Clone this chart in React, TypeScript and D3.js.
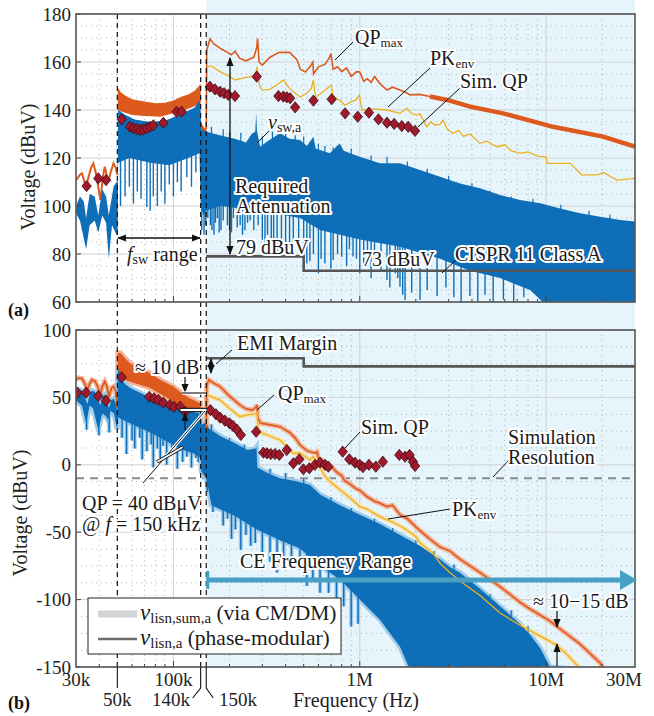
import React from 'react';
import * as d3 from 'd3';

type Pt = [number, number];

// ---------- DATA (frequency in kHz, level in dBuV) ----------
// Panel (a)
const qpA_low: Pt[] = [[30,110.8],[31.5,113],[32.3,113.6],[33.3,110],[34,108],[35,112],[36.2,116],[37.2,117.8],[38.5,113],[40.6,102.5],[41.8,112],[42.8,116.4],[43.8,113],[44.8,110],[46,114],[47.7,117.8],[49,116],[50,113]];
const qpA_bandTop: Pt[] = [[50,113],[50.3,149.4],[52,147.5],[55,146],[60,144.5],[70,143.5],[80,142.8],[90,143],[100,144],[110,145.5],[120,146.5],[130,148],[137,150],[140,151],[140.5,135],[145,133],[150,132]];
const qpA_bandBot: Pt[] = [[50.3,140],[52,139.5],[60,137.9],[70,137.5],[85,137.2],[100,138.6],[110,139.5],[125,141],[140,142.8],[140.5,132],[150,130]];
const qpA_high: Pt[] = [[150,132],[151,165],[157,169.6],[165,167.5],[180,165.5],[195,164],[205,163],[214,164.5],[227,161.5],[245,160.5],[270,162],[280,166],[283,169.8],[288,160],[300,158.7],[330,162],[370,164],[420,164],[460,161],[480,157],[510,155.8],[540,158],[560,160],[565,155],[600,158],[650,159],[690,162],[700,163.5],[720,157],[760,158],[800,156],[850,157.5],[900,154],[960,156],[1000,155.8],[1050,152],[1100,153],[1150,151.5],[1200,154],[1284,151],[1400,148.3],[1500,149.5],[1644,148.3],[1750,147.5],[1862,146.3],[2100,146.5],[2380,145.6],[2940,144.2],[3910,141.4],[5877,138.6],[10900,133],[20235,128.9],[30000,124.7]];
const pkA: Pt[] = [[151,158],[160,158.3],[178,156],[200,154],[214,152.5],[245,153.6],[267,153.9],[278,156],[281,158],[290,150],[299,148.3],[329,148.6],[360,150.5],[389,152.5],[420,149],[450,147],[478,145.4],[519,147],[550,149],[564,152.5],[575,147],[583,145.4],[654,148.3],[692,150],[705,150.4],[719,145.6],[780,144],[834,142],[900,143.5],[956,144.2],[995,146.3],[1028,140],[1200,140.5],[1400,140],[1644,138.6],[1791,140.7],[1900,138.5],[2029,137.9],[2106,138.5],[2289,133],[2400,135],[2535,133.75],[2700,134],[2800,135.8],[2950,132],[3168,130.3],[3400,131.5],[3600,129],[3900,130],[4422,126.1],[4800,127],[5459,124.7],[6000,125.5],[6500,123],[7252,122],[8000,122.5],[9000,120.8],[10000,120.5],[10125,117.8],[13500,117.8],[15500,113],[19000,113],[20300,114],[24000,110.8],[30000,111.5]];
const swA_upper: Pt[] = [[30,100],[31.5,104],[33,102],[34,95],[35.5,105],[37.8,104],[39.5,96],[41.5,107],[43.5,104],[45,96],[47.7,108],[49.5,110],[50.2,110],[50.5,140],[55,138],[62,136],[75,135],[90,135.5],[100,137],[115,139],[130,141],[138,144],[140,140],[141,132],[150,131],[167,130],[189,129],[214,128],[245,126.5],[263,130],[275,131],[278,138.6],[281,131],[292,124.7],[320,127],[373,130.3],[420,128],[478,127.5],[520,125],[564,128.9],[580,124],[690,122],[780,126],[820,123],[1000,120.5],[1284,117.8],[1644,117.8],[2106,115],[2697,112.2],[3454,109.4],[4422,107.4],[5663,104.6],[7252,102.5],[9300,101.1],[11890,99],[15225,97],[19495,95.5],[24955,94.2],[30000,93.5]];
const swA_lower: Pt[] = [[30,97],[31.5,94],[34,82],[35.5,92],[37.8,94],[39.5,89],[41.5,96],[43.5,93],[45,78],[46.8,92],[49.5,88],[50.2,88],[50.5,118],[58,120],[75,118],[95,117],[120,120],[138,122],[140,100],[145,96],[150,98],[178,100],[230,99],[292,98],[478,95],[612,90],[1000,86],[1644,83],[2697,78],[3900,73],[5663,70],[8200,65],[9600,60],[30000,60]];
const swA_spikes: Pt[] = [[52,100],[55,104],[58,108],[61,101],[64,106],[67,103],[72,99.6],[75,98],[78,104],[82,100],[86,106],[90,101],[95,109],[100,104],[105,110],[110,106],[118,112],[125,108],[132,114],[142,90],[146,88],[149,92],[153,95],[158,92],[161,90],[165,88],[168,93],[172,95],[176,89],[180,90],[185,94],[195,92],[200,90],[205,89],[210,95],[220,91],[228,92],[235,88],[242,90],[250,93],[258,94],[270,90],[285,92],[300,86],[310,84],[320,88],[335,86],[345,84],[360,80],[380,86],[400,82],[420,85],[440,79],[470,83],[500,80],[520,76],[540,77],[564,80],[600,72],[620,78],[650,76],[700,74],[720,77.5],[760,80],[800,78.9],[850,75],[880,82],[920,79],[960,78],[1000,72],[1050,76],[1100,74.7],[1150,70],[1200,77],[1300,73],[1400,69.2],[1450,66],[1550,72],[1600,70],[1644,66.4],[1700,63],[1750,60.8],[1900,64],[2106,60.8],[2300,65],[2600,62.5],[2900,66],[3200,62],[3500,60],[3900,62.5],[4300,60],[4700,63],[5200,60],[5900,61],[6700,60],[7600,62]];
const swA_upSpikes: Pt[] = [[160,133],[185,132],[200,131],[230,130.5],[300,129],[340,131],[360,129],[400,131],[450,129.5],[500,129],[600,126],[650,125],[720,124.5],[900,124],[1150,121],[1400,120.5],[1800,118.5],[2300,115.5],[3000,112.5],[4000,109.5],[5000,106.5],[6500,104],[8500,103],[12000,100.5],[17000,98],[22000,96.5]];
const simQpA: Pt[] = [[34.2,108.3],[39.5,111.5],[43.5,110.8],[52.8,136.1],[58.5,133],[60.9,132.4],[63.5,132],[66.2,131.7],[68.9,131.9],[71.9,132.4],[74.9,133],[78,133.6],[88.3,134.7],[104,139.3],[110.7,139.3],[157,149.7],[167,148.6],[178,147.6],[187,147],[197,146.3],[214,145.8],[280,153.9],[366,145.8],[389,145.6],[406,145.3],[423,144.9],[450,141.1],[564,143.9],[707,144.5],[834,138.6],[975,137.2],[1120,138.9],[1260,136.1],[1400,134.7],[1530,134.2],[1680,133.3],[1820,133],[1980,131.3]];

// Panel (b)
const qpB_low: Pt[] = [[30,63],[31,64.5],[32.3,64],[33.5,60],[34.5,55],[35.5,60],[36.5,63],[38,62],[39.5,57],[40.5,52],[41.5,58],[42.8,61.7],[44,58],[45,50],[46.5,57],[47.7,58],[49,55],[50,42]];
const qpB_bandTop: Pt[] = [[50,42],[50.3,83],[52,82.9],[55,79],[58.5,75.3],[65,72],[75,68],[85,63],[100,58],[108,54.3],[120,50],[133,47],[138,46],[140,45.8],[141,30],[144,25],[148,26],[150,27]];
const qpB_bandBot: Pt[] = [[50.3,62],[55,62.9],[75,57],[100,47],[108,43],[130,41],[140,40],[141,28],[150,25]];
const qpB_high: Pt[] = [[150,27],[151,59.2],[155,62.9],[165,60.5],[178,58],[200,51],[227,44.4],[245,41.5],[265,40.6],[278,43],[281,44.4],[284,35],[292,31],[320,30],[373,28.3],[420,24],[450,20],[478,14.7],[520,10.5],[541,9.7],[575,8.7],[590,9.5],[600,5],[650,2],[700,-1],[760,-6],[800,-8],[830,-12],[880,-14],[950,-17.5],[1000,-19],[1100,-23.9],[1200,-27],[1284,-28.6],[1400,-31],[1500,-30],[1644,-37],[1800,-40],[2000,-46],[2300,-53.4],[2697,-61],[3052,-64],[3450,-70],[4422,-80],[5663,-90.4],[7250,-102],[8200,-107],[10500,-116],[11450,-120],[15225,-133],[19495,-147],[20500,-152]];
const pkB: Pt[] = [[151,51.8],[160,50.5],[178,48],[200,42],[227,35.7],[250,37],[278,38],[281,39.4],[285,25],[299,23.6],[373,18.4],[440,8.5],[478,8.7],[541,3.6],[564,6],[600,0],[654,-9],[700,-13],[760,-17],[880,-24],[1000,-31],[1100,-33],[1284,-38.6],[1530,-43],[1791,-48.4],[2000,-53.4],[2106,-58],[2470,-65.5],[2697,-73],[3052,-80],[3600,-88],[4422,-97],[5663,-110],[7250,-119],[9000,-126],[10500,-131],[11450,-134],[13000,-141],[15225,-151]];
const lisnB_upper: Pt[] = [[30,54],[31,56],[32.3,55],[33.5,50],[34.5,45],[35.5,52],[36.5,55],[38,54],[39.5,48],[40.5,44],[41.5,50],[42.8,52],[44,49],[45,42],[46.5,48],[47.7,49],[49,46],[50,38],[50.3,66],[51,72],[52,64],[55,60],[58.5,57],[75,50],[100,44],[108,41],[130,39],[138,38],[140,36],[141,30],[150,31],[155,27],[180,21],[214,16],[250,11],[276,12],[279,13],[282,-2],[320,-6],[373,-10],[450,-12],[541,-15],[612,-22],[784,-30],[1000,-37],[1284,-44],[1644,-52],[2100,-60],[2697,-70],[3052,-76],[3450,-80],[4422,-92],[5663,-105],[7250,-118],[8200,-126],[9300,-136],[10500,-150]];
const lisnB_lower: Pt[] = [[30,48],[31,46],[32.3,44],[34,31],[35.5,44],[37,42],[39.5,26],[41.5,38],[43.5,36],[44.5,33],[46,40],[48,38],[49.5,28],[50,28],[50.3,35],[60,30],[75,24],[90,18],[108,12],[130,8],[140,5],[141,-5],[150,-10],[160,-30],[214,-38],[280,-48],[373,-56],[478,-62],[612,-75],[784,-85],[1000,-100],[1284,-115],[1644,-135],[1900,-155],[30000,-155]];
const lisnB_spikes: Pt[] = [[34.2,26],[39.8,22],[45.2,24],[53,20],[56,8],[60,18],[62,12],[66,20],[68,4],[72,10],[76,15],[78,-2],[82,12],[85,5],[88,14],[92,0],[98,8],[102,14],[105,-3],[112,2],[118,6],[122,12],[125,-2],[132,5],[136,2],[152,-20],[156,-15],[163,-35],[170,-25],[185,-45],[195,-40],[205,-55],[215,-48],[230,-63],[245,-52],[260,-60],[275,-58],[300,-68],[330,-72],[360,-80],[390,-68],[430,-75],[478,-78],[520,-90],[560,-85],[612,-95],[680,-95],[750,-110],[820,-105],[900,-120],[980,-118]];
const lisnB_upSpikes: Pt[] = [[160,30],[200,20],[240,15],[330,-3],[400,-6],[500,-10],[700,-24],[900,-32],[1200,-40],[1500,-47],[2000,-56],[2500,-64],[3200,-74],[4000,-84],[5000,-96],[6500,-108],[8000,-120]];
const simQpB: Pt[] = [[30.5,53.5],[34,53.5],[39.5,51],[43.5,47.6],[52.8,64.9],[74.2,50.5],[78.7,49.3],[83,48.1],[88.3,46.1],[95.9,44.4],[100.7,43.1],[108.5,43.1],[115.5,39.4],[158,40.6],[169,37.5],[178,35],[189,32.7],[200,30.8],[209,28.8],[220,25.8],[230,22.1],[278,24.5],[304,9],[318,8.5],[333,8],[351,8],[370,7.3],[406,11],[440,1.1],[474,4.1],[498,-3.3],[536,-2.6],[575,0],[612,1.6],[651,0],[678,-1.4],[810,9.7],[879,4.1],[943,1.6],[1000,0],[1040,-1.8],[1120,0],[1220,-1.4],[1330,2.3],[1630,7.3],[1750,6],[1850,7.3],[1930,2.3],[1980,-0.9]];

// Limits, markers, ticks
const cispr: Pt[] = [[150,79],[500,79],[500,73],[30000,73]];
const simResolution = -10;
const markerFreqs = [50, 140, 150];
const yTicksA = [60, 80, 100, 120, 140, 160, 180];
const yTicksB = [-150, -100, -50, 0, 50, 100];
const xMajor = [100, 1000, 10000];
const xTickLabels: [number, string][] = [[30, '30k'], [100, '100k'], [1000, '1M'], [10000, '10M'], [30000, '30M']];

// ---------- LAYOUT ----------
const W = 654, H = 716;
const X0 = 76, X1 = 635;
const A_TOP = 14, A_BOT = 302;
const B_TOP = 330, B_BOT = 667;
const FONT = '"Liberation Serif", "Tinos", "DejaVu Serif", "Noto Serif", "Times New Roman", Times, serif';

const C_BLUE = '#0E6EB8';
const C_HALO_BLUE = '#9FCBEA';
const C_ORANGE = '#DC5A1E';
const C_HALO_OR = '#F2B59A';
const C_YELLOW = '#EDB120';
const C_HALO_YE = '#F7DFA6';
const C_DIA = '#A0192D';
const C_SHADE = '#E6F5FB';

const x = d3.scaleLog().domain([30, 30000]).range([X0, X1]);
const ya = d3.scaleLinear().domain([60, 180]).range([A_BOT, A_TOP]);
const yb = d3.scaleLinear().domain([-150, 100]).range([B_BOT, B_TOP]);

const mkLine = (y: d3.ScaleLinear<number, number>) => d3.line<Pt>().x(d => x(d[0])).y(d => y(d[1]));
const lineA = mkLine(ya);
const lineB = mkLine(yb);
const poly = (up: Pt[], lo: Pt[], ln: d3.Line<Pt>) => (ln([...up, ...lo.slice().reverse()]) || '') + 'Z';
const interp = (pts: Pt[]) => d3.scaleLog().domain(pts.map(p => p[0])).range(pts.map(p => p[1])).clamp(true);

const xMinor: number[] = [];
[10, 100, 1000, 10000].forEach(dec => {
  for (let k = 2; k <= 9; k++) {
    const f = dec * k;
    if (f > 30 && f < 30000) xMinor.push(f);
  }
});

const haloText = { stroke: 'white', strokeWidth: 4, paintOrder: 'stroke' as const, strokeLinejoin: 'round' as const };

function Grid({ y, ticks, minorStep, top, bot }: { y: d3.ScaleLinear<number, number>; ticks: number[]; minorStep: number; top: number; bot: number }) {
  const [lo, hi] = y.domain();
  const minorY: number[] = [];
  for (let v = lo; v <= hi + 1e-6; v += minorStep) {
    if (!ticks.some(t => Math.abs(t - v) < 1e-6)) minorY.push(v);
  }
  return (
    <g>
      {minorY.map(v => <line key={'my' + v} x1={X0} x2={X1} y1={y(v)} y2={y(v)} stroke="#b5b5b5" strokeWidth={1} strokeDasharray="1 4" />)}
      {xMinor.map(f => <line key={'mx' + f} x1={x(f)} x2={x(f)} y1={top} y2={bot} stroke="#b5b5b5" strokeWidth={1} strokeDasharray="1 4" />)}
      {ticks.map(v => <line key={'gy' + v} x1={X0} x2={X1} y1={y(v)} y2={y(v)} stroke="#d2d2d2" strokeWidth={1} />)}
      {xMajor.map(f => <line key={'gx' + f} x1={x(f)} x2={x(f)} y1={top} y2={bot} stroke="#d2d2d2" strokeWidth={1} />)}
    </g>
  );
}

function Axes({ y, ticks, top, bot }: { y: d3.ScaleLinear<number, number>; ticks: number[]; top: number; bot: number }) {
  return (
    <g>
      {ticks.map(v => <line key={'ty' + v} x1={X0} x2={X0 + 5} y1={y(v)} y2={y(v)} stroke="#444" />)}
      {xMinor.map(f => <line key={'tx' + f} x1={x(f)} x2={x(f)} y1={bot} y2={bot - 3} stroke="#444" />)}
      {xMajor.map(f => <line key={'tX' + f} x1={x(f)} x2={x(f)} y1={bot} y2={bot - 6} stroke="#444" />)}
      <rect x={X0} y={top} width={X1 - X0} height={bot - top} fill="none" stroke="#555" strokeWidth={1.6} />
      {ticks.map(v => (
        <text key={'ly' + v} x={71} y={y(v)} dy="0.35em" textAnchor="end" fontSize={19} fill="#222">{v}</text>
      ))}
    </g>
  );
}

function Diamonds({ pts, y }: { pts: Pt[]; y: d3.ScaleLinear<number, number> }) {
  return (
    <g>
      {pts.map((p, i) => (
        <path key={i} d="M0,-5.6 L4.7,0 L0,5.6 L-4.7,0 Z" transform={`translate(${x(p[0])},${y(p[1])})`} fill={C_DIA} stroke="#3d0a0f" strokeWidth={0.8} />
      ))}
    </g>
  );
}

function Spikes({ pts, base, y, color, width }: { pts: Pt[]; base: (f: number) => number; y: d3.ScaleLinear<number, number>; color: string; width: number }) {
  return (
    <g>
      {pts.map((s, i) => (
        <line key={i} x1={x(s[0])} x2={x(s[0])} y1={y(base(s[0]))} y2={y(s[1])} stroke={color} strokeWidth={width} />
      ))}
    </g>
  );
}

export default function App() {
  const upA = interp(swA_upper);
  const upB = interp(lisnB_upper);
  const baseA = (f: number) => upA(f) - 3;
  const baseB = (f: number) => upB(f) - 3;
  const qpAthick = qpA_high.filter(d => d[0] >= 2300);
  return (
    <svg width={W} height={H} viewBox={`0 0 ${W} ${H}`} style={{ position: 'absolute', left: 0, top: 0, background: 'white', fontFamily: FONT }}>
      <defs>
        <clipPath id="clipA"><rect x={X0} y={A_TOP} width={X1 - X0} height={A_BOT - A_TOP} /></clipPath>
        <clipPath id="clipB"><rect x={X0} y={B_TOP} width={X1 - X0} height={B_BOT - B_TOP} /></clipPath>
        <marker id="ah" viewBox="0 0 10 10" refX="9" refY="5" markerWidth="9" markerHeight="9" markerUnits="userSpaceOnUse" orient="auto-start-reverse">
          <path d="M0,1 L10,5 L0,9 z" fill="#111" />
        </marker>
      </defs>

      {/* CE frequency range shading */}
      <rect x={x(150)} y={0} width={X1 - x(150)} height={B_BOT} fill={C_SHADE} />

      {/* ================= PANEL (a) ================= */}
      <Grid y={ya} ticks={yTicksA} minorStep={5} top={A_TOP} bot={A_BOT} />
      <g clipPath="url(#clipA)">
        <path d={poly(qpA_bandTop, qpA_bandBot, lineA)} fill={C_ORANGE} />
        <path d={lineA(qpA_low) || ''} fill="none" stroke={C_ORANGE} strokeWidth={2} />
        <path d={poly(swA_upper, swA_lower, lineA)} fill={C_BLUE} />
        <Spikes pts={swA_spikes} base={baseA} y={ya} color={C_BLUE} width={1.4} />
        <Spikes pts={swA_upSpikes} base={baseA} y={ya} color={C_BLUE} width={1.2} />
        <path d={lineA(cispr) || ''} fill="none" stroke="#555" strokeWidth={2.6} />
        <path d={lineA(qpA_high) || ''} fill="none" stroke={C_ORANGE} strokeWidth={1.6} />
        <path d={lineA(qpAthick) || ''} fill="none" stroke={C_ORANGE} strokeWidth={4.5} />
        <path d={lineA(pkA) || ''} fill="none" stroke={C_YELLOW} strokeWidth={1.3} />
        <Diamonds pts={simQpA} y={ya} />
      </g>

      {/* ================= PANEL (b) ================= */}
      <Grid y={yb} ticks={yTicksB} minorStep={12.5} top={B_TOP} bot={B_BOT} />
      <g clipPath="url(#clipB)">
        <line x1={X0} x2={X1} y1={yb(simResolution)} y2={yb(simResolution)} stroke="#8a8a8a" strokeWidth={2} strokeDasharray="8 6" />
        <path d={lineB(cispr) || ''} fill="none" stroke="#555" strokeWidth={2.6} />
        {/* halos (v_lisn,sum,a) */}
        <path d={poly(qpB_bandTop, qpB_bandBot, lineB)} fill={C_HALO_OR} stroke={C_HALO_OR} strokeWidth={5} />
        <path d={lineB(qpB_low) || ''} fill="none" stroke={C_HALO_OR} strokeWidth={5} />
        <path d={poly(lisnB_upper, lisnB_lower, lineB)} fill={C_HALO_BLUE} stroke={C_HALO_BLUE} strokeWidth={5} />
        <Spikes pts={lisnB_spikes} base={baseB} y={yb} color={C_HALO_BLUE} width={4} />
        <Spikes pts={lisnB_upSpikes} base={baseB} y={yb} color={C_HALO_BLUE} width={4} />
        <path d={lineB(qpB_high) || ''} fill="none" stroke={C_HALO_OR} strokeWidth={5} />
        <path d={lineB(pkB) || ''} fill="none" stroke={C_HALO_YE} strokeWidth={4.5} />
        {/* main traces (v_lisn,a) */}
        <path d={poly(qpB_bandTop, qpB_bandBot, lineB)} fill={C_ORANGE} />
        <path d={lineB(qpB_low) || ''} fill="none" stroke={C_ORANGE} strokeWidth={1.8} />
        <path d={poly(lisnB_upper, lisnB_lower, lineB)} fill={C_BLUE} />
        <Spikes pts={lisnB_spikes} base={baseB} y={yb} color={C_BLUE} width={1.4} />
        <Spikes pts={lisnB_upSpikes} base={baseB} y={yb} color={C_BLUE} width={1.2} />
        <path d={lineB(qpB_high) || ''} fill="none" stroke={C_ORANGE} strokeWidth={1.6} />
        <path d={lineB(pkB) || ''} fill="none" stroke={C_YELLOW} strokeWidth={1.3} />
        <Diamonds pts={simQpB} y={yb} />
      </g>

      {/* vertical dashed markers */}
      {markerFreqs.map(f => (
        <line key={'vm' + f} x1={x(f)} x2={x(f)} y1={A_TOP} y2={B_BOT} stroke="#111" strokeWidth={1.2} strokeDasharray="5 4" />
      ))}

      <Axes y={ya} ticks={yTicksA} top={A_TOP} bot={A_BOT} />
      <Axes y={yb} ticks={yTicksB} top={B_TOP} bot={B_BOT} />

      {/* axis labels */}
      <text transform={`translate(35,167) rotate(-90)`} textAnchor="middle" fontSize={20} fill="#222">Voltage (dBuV)</text>
      <text transform={`translate(27,513) rotate(-90)`} textAnchor="middle" fontSize={20} fill="#222">Voltage (dBuV)</text>
      {xTickLabels.map(([f, s]) => (
        <text key={s} x={f === 30000 ? x(f) - 11 : x(f)} y={686} textAnchor="middle" fontSize={19} fill="#222">{s}</text>
      ))}
      <line x1={x(50)} x2={x(50)} y1={B_BOT} y2={688} stroke="#111" strokeWidth={1.1} />
      <polyline points={`${x(140)},${B_BOT} ${x(140)},688 ${x(140) - 8},698`} fill="none" stroke="#111" strokeWidth={1.1} />
      <polyline points={`${x(150)},${B_BOT} ${x(150)},688 ${x(150) + 7},698`} fill="none" stroke="#111" strokeWidth={1.1} />
      <text x={x(50)} y={706} textAnchor="middle" fontSize={19} fill="#222">50k</text>
      <text x={190} y={706} textAnchor="end" fontSize={19} fill="#222">140k</text>
      <text x={219} y={706} textAnchor="start" fontSize={19} fill="#222">150k</text>
      <text x={356} y={707} textAnchor="middle" fontSize={20} fill="#222">Frequency (Hz)</text>
      <text x={8} y={316} fontSize={18} fontWeight="bold" fill="#111">(a)</text>
      <text x={8} y={709} fontSize={18} fontWeight="bold" fill="#111">(b)</text>

      {/* ---------- annotations panel (a) ---------- */}
      <g fontSize={20} fill="#1a1a1a">
        <line x1={335} y1={60} x2={353} y2={42} stroke="#111" strokeWidth={1} />
        <text x={355} y={44} {...haloText}>QP<tspan fontSize={13} dy={3}>max</tspan></text>
        <line x1={388} y1={107} x2={430} y2={68} stroke="#111" strokeWidth={1} />
        <text x={430} y={65} {...haloText}>PK<tspan fontSize={13} dy={3}>env</tspan></text>
        <line x1={418} y1={127} x2={460} y2={88} stroke="#111" strokeWidth={1} />
        <text x={460} y={88} {...haloText}>Sim. QP</text>
        <line x1={257} y1={143} x2={269} y2={131} stroke="#111" strokeWidth={1} />
        <text x={268} y={129} {...haloText}><tspan fontStyle="italic">v</tspan><tspan fontSize={14} dy={3}>sw,a</tspan></text>
        <line x1={230} y1={58} x2={230} y2={254} stroke="#111" strokeWidth={1.3} markerStart="url(#ah)" markerEnd="url(#ah)" />
        <text x={235} y={193} {...haloText}>Required</text>
        <text x={236} y={213} {...haloText}>Attenuation</text>
        <text x={236} y={254} {...haloText}>79 dBuV</text>
        <text x={362} y={266} {...haloText}>73 dBuV</text>
        <line x1={442} y1={273} x2={456} y2={260} stroke="#111" strokeWidth={1} />
        <text x={455} y={261} {...haloText}>CISPR 11 Class A</text>
        <line x1={118} y1={238} x2={200} y2={238} stroke="#111" strokeWidth={1.3} markerStart="url(#ah)" markerEnd="url(#ah)" />
        <text x={127} y={261} {...haloText}><tspan fontStyle="italic">f</tspan><tspan fontSize={14} dy={3}>sw</tspan><tspan dy={-3}> range</tspan></text>
      </g>

      {/* ---------- annotations panel (b) ---------- */}
      <g fontSize={20} fill="#1a1a1a">
        <text x={135} y={374} {...haloText}>≈ 10 dB</text>
        <line x1={185} y1={377} x2={185} y2={392} stroke="#111" strokeWidth={1.2} markerEnd="url(#ah)" />
        <line x1={182} y1={393} x2={206} y2={393} stroke="white" strokeWidth={3.5} />
        <line x1={182} y1={393} x2={206} y2={393} stroke="#111" strokeWidth={1.1} />
        <line x1={180} y1={410} x2={207} y2={410} stroke="#111" strokeWidth={4.5} />
        <line x1={180.5} y1={410} x2={206.5} y2={410} stroke="white" strokeWidth={2.2} />
        <line x1={185} y1={430} x2={185} y2={413} stroke="#111" strokeWidth={1.2} markerEnd="url(#ah)" />
        <line x1={143} y1={483} x2={205} y2={411} stroke="white" strokeWidth={3} />
        <line x1={143} y1={483} x2={205} y2={411} stroke="#111" strokeWidth={1} />
        <line x1={157} y1={462} x2={183} y2={447} stroke="#111" strokeWidth={3.6} />
        <line x1={157.5} y1={461.7} x2={182.5} y2={447.3} stroke="white" strokeWidth={1.8} />
        <text x={82} y={510} {...haloText}>QP = 40 dBμV</text>
        <text x={82} y={531} {...haloText}>@ <tspan fontStyle="italic">f</tspan> = 150 kHz</text>

        <line x1={211} y1={359} x2={211} y2={373} stroke="#111" strokeWidth={1.2} markerStart="url(#ah)" markerEnd="url(#ah)" />
        <line x1={216} y1={364} x2={232} y2={350} stroke="#111" strokeWidth={1} />
        <text x={237} y={350} {...haloText}>EMI Margin</text>
        <line x1={257} y1={410} x2={274} y2={395} stroke="#111" strokeWidth={1} />
        <text x={278} y={400} {...haloText}>QP<tspan fontSize={13} dy={3}>max</tspan></text>
        <line x1={345} y1={448} x2={360} y2={432} stroke="#111" strokeWidth={1} />
        <text x={361} y={434} {...haloText}>Sim. QP</text>
        <line x1={493} y1={477} x2={509} y2={460} stroke="#111" strokeWidth={1} />
        <text x={508} y={444} {...haloText}>Simulation</text>
        <text x={508} y={464} {...haloText}>Resolution</text>
        <line x1={388} y1={519} x2={450} y2={509} stroke="#111" strokeWidth={1} />
        <text x={452} y={516} {...haloText}>PK<tspan fontSize={13} dy={3}>env</tspan></text>

        <line x1={x(150) + 1} x2={622} y1={580} y2={580} stroke="#48A0C4" strokeWidth={5} />
        <line x1={x(150) + 1.5} x2={x(150) + 1.5} y1={571} y2={589} stroke="#48A0C4" strokeWidth={3} />
        <path d="M620,570 L637,580 L620,590 Z" fill="#48A0C4" />
        <text x={240} y={568} {...haloText}>CE Frequency Range</text>

        <text x={533} y={608} {...haloText}>≈ 10−15 dB</text>
        <line x1={557} y1={611} x2={557} y2={627} stroke="#111" strokeWidth={1.2} markerEnd="url(#ah)" />
        <line x1={557} y1={666} x2={557} y2={644} stroke="#111" strokeWidth={1.2} markerEnd="url(#ah)" />

        {/* legend */}
        <rect x={88} y={598} width={253} height={56} fill="white" stroke="#222" strokeWidth={1} />
        <line x1={98} x2={137} y1={614} y2={614} stroke="#d4d4d4" strokeWidth={7} />
        <line x1={98} x2={137} y1={639} y2={639} stroke="#6e6e6e" strokeWidth={2.5} />
        <text x={140} y={620} fontSize={21.5}><tspan fontStyle="italic" fontSize={23}>v</tspan><tspan fontSize={15} dy={3}>lisn,sum,a</tspan><tspan dy={-3}> (via CM/DM)</tspan></text>
        <text x={140} y={645} fontSize={21.5}><tspan fontStyle="italic" fontSize={23}>v</tspan><tspan fontSize={15} dy={3}>lisn,a</tspan><tspan dy={-3}> (phase-modular)</tspan></text>
      </g>
    </svg>
  );
}
